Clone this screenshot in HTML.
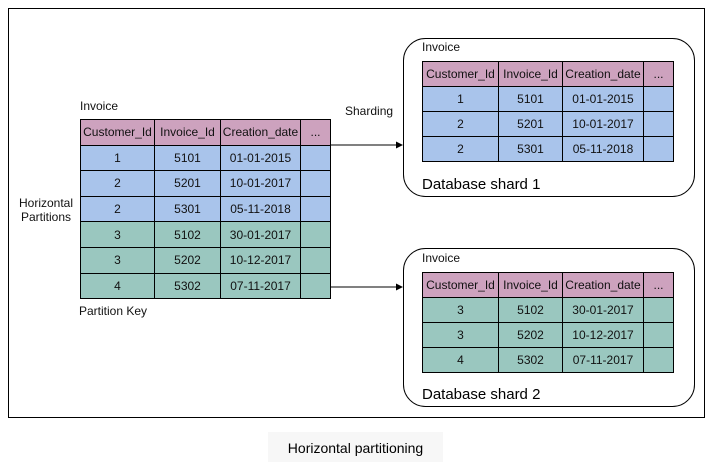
<!DOCTYPE html>
<html><head><style>
body{margin:0;width:712px;height:462px;background:#fff;position:relative;font-family:"Liberation Sans",Arial,sans-serif;overflow:hidden}
.a{position:absolute}
table{position:absolute;border-collapse:collapse;font-size:12px}
td{border:1px solid #000;text-align:center;padding:0;height:24px;color:#111}
.L td{height:24.6px}
.h td{background:#cda2be}
.b td{background:#a9c4eb}
.g td{background:#9ac7bf}
.t{font-size:12px;color:#111}
</style></head><body>
<div class="a" style="left:8px;top:8px;width:695px;height:408px;border:1px solid #000"></div>
<div class="a t" style="left:80px;top:99px">Invoice</div>
<table class="L" style="left:80px;top:119px">
<colgroup><col style="width:74px"><col style="width:66px"><col style="width:80px"><col style="width:30px"></colgroup>
<tr class="h"><td>Customer_Id</td><td>Invoice_Id</td><td>Creation_date</td><td>...</td></tr>
<tr class="b"><td>1</td><td>5101</td><td>01-01-2015</td><td></td></tr>
<tr class="b"><td>2</td><td>5201</td><td>10-01-2017</td><td></td></tr>
<tr class="b"><td>2</td><td>5301</td><td>05-11-2018</td><td></td></tr>
<tr class="g"><td>3</td><td>5102</td><td>30-01-2017</td><td></td></tr>
<tr class="g"><td>3</td><td>5202</td><td>10-12-2017</td><td></td></tr>
<tr class="g"><td>4</td><td>5302</td><td>07-11-2017</td><td></td></tr>
</table>
<div class="a t" style="left:18px;top:196px;text-align:center;width:56px;line-height:14px">Horizontal Partitions</div>
<div class="a t" style="left:79px;top:304px">Partition Key</div>
<div class="a t" style="left:345px;top:104px">Sharding</div>
<svg class="a" style="left:0;top:0" width="712" height="462">
<path d="M330 145H400" stroke="#000" fill="none"/><path d="M403 145l-7-3.5v7z" fill="#000"/>
<path d="M330 287H400" stroke="#000" fill="none"/><path d="M403 287l-7-3.5v7z" fill="#000"/>
<rect x="403.5" y="38.5" width="291" height="158" rx="22" fill="none" stroke="#000"/>
<rect x="403.5" y="248.5" width="291" height="158" rx="22" fill="none" stroke="#000"/>
</svg>
<div class="a t" style="left:422px;top:40px">Invoice</div>
<table style="left:422px;top:61px">
<colgroup><col style="width:76px"><col style="width:64px"><col style="width:81px"><col style="width:30px"></colgroup>
<tr class="h"><td>Customer_Id</td><td>Invoice_Id</td><td>Creation_date</td><td>...</td></tr>
<tr class="b"><td>1</td><td>5101</td><td>01-01-2015</td><td></td></tr>
<tr class="b"><td>2</td><td>5201</td><td>10-01-2017</td><td></td></tr>
<tr class="b"><td>2</td><td>5301</td><td>05-11-2018</td><td></td></tr>
</table>
<div class="a" style="left:422px;top:176px;font-size:15px">Database shard 1</div>
<div class="a t" style="left:422px;top:251px">Invoice</div>
<table style="left:422px;top:272px">
<colgroup><col style="width:76px"><col style="width:64px"><col style="width:81px"><col style="width:30px"></colgroup>
<tr class="h"><td>Customer_Id</td><td>Invoice_Id</td><td>Creation_date</td><td>...</td></tr>
<tr class="g"><td>3</td><td>5102</td><td>30-01-2017</td><td></td></tr>
<tr class="g"><td>3</td><td>5202</td><td>10-12-2017</td><td></td></tr>
<tr class="g"><td>4</td><td>5302</td><td>07-11-2017</td><td></td></tr>
</table>
<div class="a" style="left:422px;top:386px;font-size:15px">Database shard 2</div>
<div class="a" style="left:268px;top:432px;width:175px;height:30px;background:#f7f7f7;font-size:14px;text-align:center;line-height:32px">Horizontal partitioning</div>
</body></html>
